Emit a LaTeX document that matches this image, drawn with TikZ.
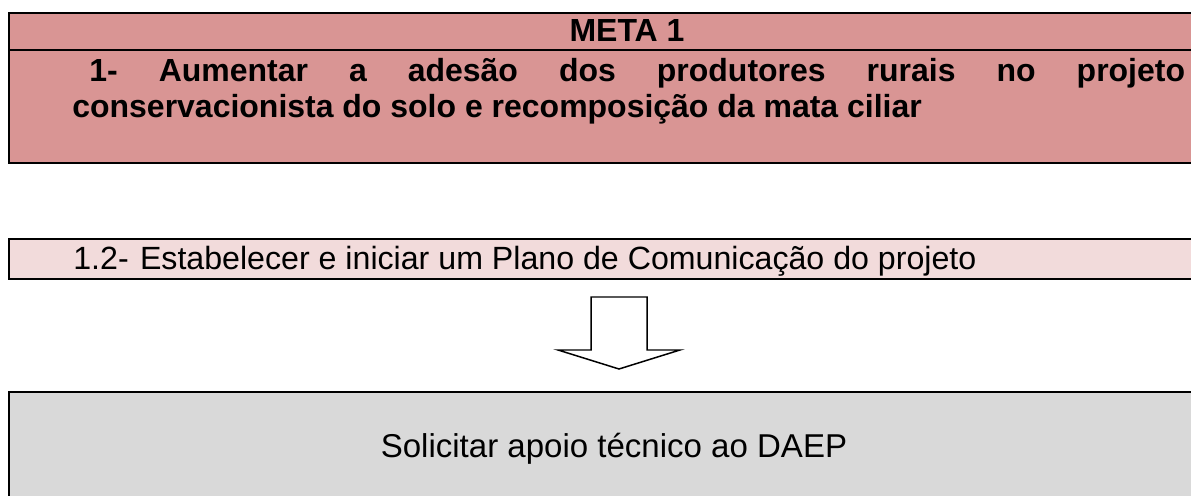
\documentclass[tikz,border=0pt]{standalone}
\usepackage{fontspec}
\setmainfont{Liberation Sans}
\usetikzlibrary{positioning}

\definecolor{metared}{HTML}{D99594}
\definecolor{planopink}{HTML}{F2DBDB}
\definecolor{apoiogray}{HTML}{D9D9D9}

\def\xa{8}
\def\xt{72}

\begin{document}
\begin{tikzpicture}[x=0.02cm, y=-0.02cm,
    box/.style={rectangle, draw, line width=1.1pt, anchor=north west, minimum width=24cm, inner sep=0pt},
    txt/.style={inner sep=0pt, font=\fontsize{18.3}{20.5}\selectfont},
    boldtxt/.style={inner sep=0pt, font=\fontsize{18.2}{20.5}\selectfont\bfseries}]
    \useasboundingbox (0,0) rectangle (1191,496);
    \clip (0,0) rectangle (1191,496);

    \node[box, fill=metared, minimum height=3cm] (meta_box) at (\xa, 12) {};
    \draw[line width=0.9pt] (\xa, 50) -- (1200, 50);

    \node[boldtxt, anchor=base] (meta_title) at (627, 42) {META 1};
    \node[boldtxt, anchor=base west] (meta_line_a) at (\xt, 82)
      {\makebox[22.26cm][s]{\hspace*{0.34cm}1- Aumentar a adesão dos produtores rurais no projeto}};
    \node[boldtxt, anchor=base west] (meta_line_b) at (\xt, 118)
      {conservacionista do solo e recomposição da mata ciliar};

    \node[box, fill=planopink, minimum height=0.8cm] (plano_box) at (\xa, 238) {};
    \node[txt, anchor=base west] (plano_text) at (73, 270)
      {1.2-\hspace{0.35em}Estabelecer e iniciar um Plano de Comunicação do projeto};

    \node[box, fill=apoiogray, minimum height=3cm] (apoio_box) at (\xa, 391) {};
    \node[txt, font=\fontsize{18.8}{20.5}\selectfont, anchor=base] (apoio_text) at (614, 458)
      {Solicitar apoio técnico ao DAEP};

    % block arrow from plan to request
    \coordinate (arrow_top) at (619, 297);
    \draw[line width=0.85pt, fill=white] (arrow_top) ++(-28, 0) -- ++(56, 0) -- ++(0, 53)
      -- ++(33, 0) -- ++(-61, 19) -- ++(-61, -19) -- ++(33, 0) -- cycle;
\end{tikzpicture}
\end{document}
